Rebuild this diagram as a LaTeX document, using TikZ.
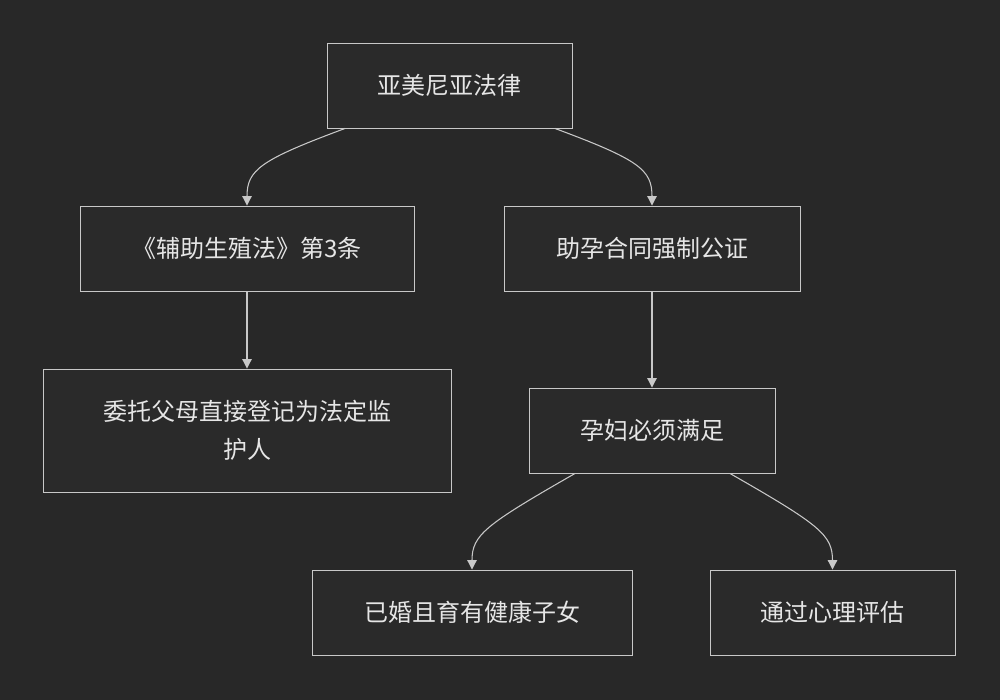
\documentclass[tikz,border=0pt]{standalone}
\usepackage{fontspec}
\setmainfont{Noto Sans CJK SC}
\usetikzlibrary{arrows.meta}
\definecolor{bg}{HTML}{282828}
\definecolor{bx}{HTML}{2A2A2A}
\definecolor{ln}{HTML}{C8C8C8}
\definecolor{tx}{HTML}{E6E6E6}
\begin{document}
\begin{tikzpicture}[x=0.75pt,y=-0.75pt,
  box/.style={draw=ln,fill=bx,line width=0.7pt,text=tx,font=\fontsize{18}{28.5}\selectfont,align=center,inner sep=0pt},
  conn/.style={draw=ln,line width=0.8pt,-{Triangle[length=7pt,width=7pt]}}]
\fill[bg] (0,0) rectangle (1000,700);
\useasboundingbox (0,0) rectangle (1000,700);
\node[box,minimum width=183.75pt,minimum height=63.75pt] (A) at (449.5,85.5) {亚美尼亚法律};
\node[box,minimum width=250.5pt,minimum height=63.75pt] (B) at (247,248.5) {《辅助生殖法》第3条};
\node[box,minimum width=222pt,minimum height=63.75pt] (C) at (652,248.5) {助孕合同强制公证};
\node[box,minimum width=306pt,minimum height=92.25pt] (D) at (247,430.5) {委托父母直接登记为法定监\\护人};
\node[box,minimum width=184.5pt,minimum height=63.75pt] (E) at (652,430.5) {孕妇必须满足};
\node[box,minimum width=240pt,minimum height=63.75pt] (F) at (472,612.5) {已婚且育有健康子女};
\node[box,minimum width=183.75pt,minimum height=63.75pt] (G) at (832.5,612.5) {通过心理评估};
\draw[conn] (A.south -| 345,0) .. controls (260,160) and (247,170) .. (B.north);
\draw[conn] (A.south -| 555,0) .. controls (640,160) and (652,170) .. (C.north);
\draw[conn] (B.south) -- (D.north);
\draw[conn] (C.south) -- (E.north);
\draw[conn] (E.south -| 575,0) .. controls (485,525) and (472,535) .. (F.north);
\draw[conn] (E.south -| 730,0) .. controls (820,525) and (832.5,535) .. (G.north);
\end{tikzpicture}
\end{document}
